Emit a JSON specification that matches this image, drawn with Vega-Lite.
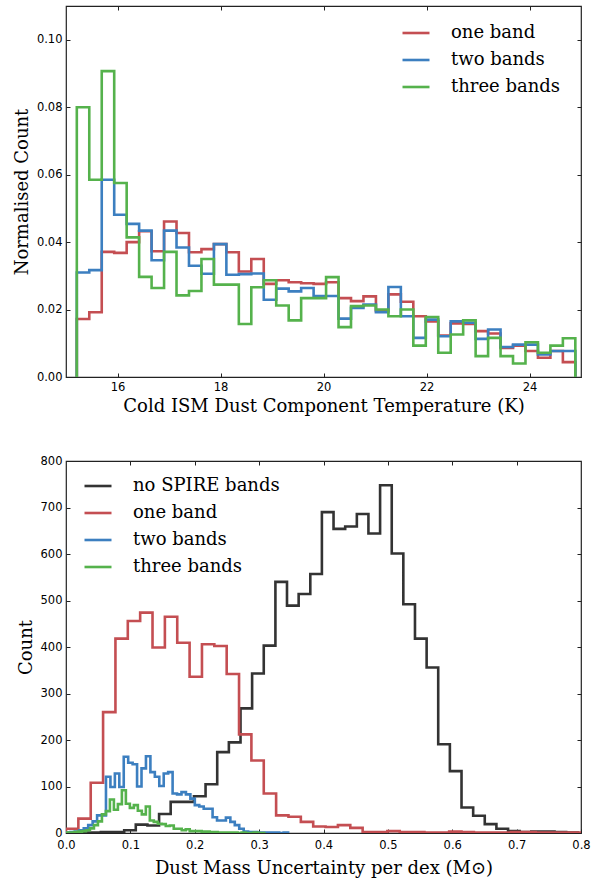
{
  "$schema": "https://vega.github.io/schema/vega-lite/v6.json",
  "background": "white",
  "padding": {"left": 12, "top": 4, "right": 4, "bottom": 0},
  "spacing": 37,
  "config": {
    "view": {"stroke": "#222222", "strokeWidth": 1.2},
    "axis": {
      "grid": false, "domain": false, "labelFlush": false,
      "labelFont": "DejaVu Sans", "labelFontSize": 11.5, "labelColor": "#000000",
      "titleFont": "DejaVu Serif", "titleFontSize": 18, "titleFontWeight": "normal", "titleColor": "#000000",
      "tickColor": "#222222", "tickSize": -4, "labelPadding": 8, "titlePadding": 5
    },
    "legend": {
      "orient": "none", "title": null, "symbolType": "stroke", "symbolSize": 729, "symbolStrokeWidth": 2.6,
      "labelFont": "DejaVu Serif", "labelFontSize": 18, "labelColor": "#000000", "labelOffset": 20,
      "rowPadding": 3, "padding": 0
    }
  },
  "datasets": {
    "top": [
      {"s":"one band","x":15.21,"v":0},
      {"s":"one band","x":15.21,"v":0.0172},
      {"s":"one band","x":15.452,"v":0.0192},
      {"s":"one band","x":15.694,"v":0.0371},
      {"s":"one band","x":15.936,"v":0.0368},
      {"s":"one band","x":16.178,"v":0.0400},
      {"s":"one band","x":16.42,"v":0.0432},
      {"s":"one band","x":16.662,"v":0.0373},
      {"s":"one band","x":16.904,"v":0.0461},
      {"s":"one band","x":17.146,"v":0.0427},
      {"s":"one band","x":17.388,"v":0.0370},
      {"s":"one band","x":17.63,"v":0.0379},
      {"s":"one band","x":17.872,"v":0.0394},
      {"s":"one band","x":18.114,"v":0.0370},
      {"s":"one band","x":18.356,"v":0.0313},
      {"s":"one band","x":18.598,"v":0.0350},
      {"s":"one band","x":18.84,"v":0.0276},
      {"s":"one band","x":19.082,"v":0.0287},
      {"s":"one band","x":19.324,"v":0.0281},
      {"s":"one band","x":19.566,"v":0.0278},
      {"s":"one band","x":19.808,"v":0.0276},
      {"s":"one band","x":20.05,"v":0.0281},
      {"s":"one band","x":20.292,"v":0.0234},
      {"s":"one band","x":20.534,"v":0.0225},
      {"s":"one band","x":20.776,"v":0.0239},
      {"s":"one band","x":21.018,"v":0.0196},
      {"s":"one band","x":21.26,"v":0.0245},
      {"s":"one band","x":21.502,"v":0.0223},
      {"s":"one band","x":21.744,"v":0.0180},
      {"s":"one band","x":21.986,"v":0.0165},
      {"s":"one band","x":22.228,"v":0.0123},
      {"s":"one band","x":22.47,"v":0.0159},
      {"s":"one band","x":22.712,"v":0.0157},
      {"s":"one band","x":22.954,"v":0.0136},
      {"s":"one band","x":23.196,"v":0.0129},
      {"s":"one band","x":23.438,"v":0.0086},
      {"s":"one band","x":23.68,"v":0.0093},
      {"s":"one band","x":23.922,"v":0.0077},
      {"s":"one band","x":24.164,"v":0.0057},
      {"s":"one band","x":24.406,"v":0.0077},
      {"s":"one band","x":24.648,"v":0.0044},
      {"s":"one band","x":24.89,"v":0.0044},
      {"s":"one band","x":24.89,"v":0},
      {"s":"two bands","x":15.21,"v":0},
      {"s":"two bands","x":15.21,"v":0.0310},
      {"s":"two bands","x":15.452,"v":0.0317},
      {"s":"two bands","x":15.694,"v":0.0585},
      {"s":"two bands","x":15.936,"v":0.0481},
      {"s":"two bands","x":16.178,"v":0.0454},
      {"s":"two bands","x":16.42,"v":0.0434},
      {"s":"two bands","x":16.662,"v":0.0346},
      {"s":"two bands","x":16.904,"v":0.0434},
      {"s":"two bands","x":17.146,"v":0.0384},
      {"s":"two bands","x":17.388,"v":0.0330},
      {"s":"two bands","x":17.63,"v":0.0306},
      {"s":"two bands","x":17.872,"v":0.0394},
      {"s":"two bands","x":18.114,"v":0.0303},
      {"s":"two bands","x":18.356,"v":0.0305},
      {"s":"two bands","x":18.598,"v":0.0307},
      {"s":"two bands","x":18.84,"v":0.0229},
      {"s":"two bands","x":19.082,"v":0.0262},
      {"s":"two bands","x":19.324,"v":0.0254},
      {"s":"two bands","x":19.566,"v":0.0264},
      {"s":"two bands","x":19.808,"v":0.0240},
      {"s":"two bands","x":20.05,"v":0.0240},
      {"s":"two bands","x":20.292,"v":0.0173},
      {"s":"two bands","x":20.534,"v":0.0205},
      {"s":"two bands","x":20.776,"v":0.0215},
      {"s":"two bands","x":21.018,"v":0.0192},
      {"s":"two bands","x":21.26,"v":0.0267},
      {"s":"two bands","x":21.502,"v":0.0180},
      {"s":"two bands","x":21.744,"v":0.0116},
      {"s":"two bands","x":21.986,"v":0.0170},
      {"s":"two bands","x":22.228,"v":0.0121},
      {"s":"two bands","x":22.47,"v":0.0165},
      {"s":"two bands","x":22.712,"v":0.0161},
      {"s":"two bands","x":22.954,"v":0.0113},
      {"s":"two bands","x":23.196,"v":0.0141},
      {"s":"two bands","x":23.438,"v":0.0089},
      {"s":"two bands","x":23.68,"v":0.0096},
      {"s":"two bands","x":23.922,"v":0.0096},
      {"s":"two bands","x":24.164,"v":0.0067},
      {"s":"two bands","x":24.406,"v":0.0077},
      {"s":"two bands","x":24.648,"v":0.0077},
      {"s":"two bands","x":24.89,"v":0.0077},
      {"s":"two bands","x":24.89,"v":0},
      {"s":"three bands","x":15.21,"v":0},
      {"s":"three bands","x":15.21,"v":0.0800},
      {"s":"three bands","x":15.452,"v":0.0585},
      {"s":"three bands","x":15.694,"v":0.0907},
      {"s":"three bands","x":15.936,"v":0.0575},
      {"s":"three bands","x":16.178,"v":0.0414},
      {"s":"three bands","x":16.42,"v":0.0297},
      {"s":"three bands","x":16.662,"v":0.0264},
      {"s":"three bands","x":16.904,"v":0.0371},
      {"s":"three bands","x":17.146,"v":0.0242},
      {"s":"three bands","x":17.388,"v":0.0255},
      {"s":"three bands","x":17.63,"v":0.0350},
      {"s":"three bands","x":17.872,"v":0.0274},
      {"s":"three bands","x":18.114,"v":0.0274},
      {"s":"three bands","x":18.356,"v":0.0157},
      {"s":"three bands","x":18.598,"v":0.0266},
      {"s":"three bands","x":18.84,"v":0.0287},
      {"s":"three bands","x":19.082,"v":0.0212},
      {"s":"three bands","x":19.324,"v":0.0168},
      {"s":"three bands","x":19.566,"v":0.0234},
      {"s":"three bands","x":19.808,"v":0.0234},
      {"s":"three bands","x":20.05,"v":0.0296},
      {"s":"three bands","x":20.292,"v":0.0148},
      {"s":"three bands","x":20.534,"v":0.0210},
      {"s":"three bands","x":20.776,"v":0.0212},
      {"s":"three bands","x":21.018,"v":0.0200},
      {"s":"three bands","x":21.26,"v":0.0180},
      {"s":"three bands","x":21.502,"v":0.0200},
      {"s":"three bands","x":21.744,"v":0.0093},
      {"s":"three bands","x":21.986,"v":0.0178},
      {"s":"three bands","x":22.228,"v":0.0072},
      {"s":"three bands","x":22.47,"v":0.0126},
      {"s":"three bands","x":22.712,"v":0.0168},
      {"s":"three bands","x":22.954,"v":0.0062},
      {"s":"three bands","x":23.196,"v":0.0116},
      {"s":"three bands","x":23.438,"v":0.0062},
      {"s":"three bands","x":23.68,"v":0.0040},
      {"s":"three bands","x":23.922,"v":0.0103},
      {"s":"three bands","x":24.164,"v":0.0072},
      {"s":"three bands","x":24.406,"v":0.0093},
      {"s":"three bands","x":24.648,"v":0.0115},
      {"s":"three bands","x":24.89,"v":0.0115},
      {"s":"three bands","x":24.89,"v":0}
    ],
    "bottom": [
      {"s":"no SPIRE bands","x":0,"v":0},
      {"s":"no SPIRE bands","x":0,"v":0},
      {"s":"no SPIRE bands","x":0.0181,"v":1},
      {"s":"no SPIRE bands","x":0.0361,"v":1},
      {"s":"no SPIRE bands","x":0.0542,"v":2},
      {"s":"no SPIRE bands","x":0.0723,"v":2},
      {"s":"no SPIRE bands","x":0.0904,"v":6},
      {"s":"no SPIRE bands","x":0.1084,"v":18},
      {"s":"no SPIRE bands","x":0.1265,"v":16},
      {"s":"no SPIRE bands","x":0.1446,"v":41},
      {"s":"no SPIRE bands","x":0.1626,"v":67},
      {"s":"no SPIRE bands","x":0.1807,"v":67},
      {"s":"no SPIRE bands","x":0.1988,"v":79},
      {"s":"no SPIRE bands","x":0.2168,"v":105},
      {"s":"no SPIRE bands","x":0.2349,"v":174},
      {"s":"no SPIRE bands","x":0.2530,"v":195},
      {"s":"no SPIRE bands","x":0.2711,"v":268},
      {"s":"no SPIRE bands","x":0.2891,"v":343},
      {"s":"no SPIRE bands","x":0.3072,"v":403},
      {"s":"no SPIRE bands","x":0.3253,"v":540},
      {"s":"no SPIRE bands","x":0.3433,"v":489},
      {"s":"no SPIRE bands","x":0.3614,"v":514},
      {"s":"no SPIRE bands","x":0.3795,"v":557},
      {"s":"no SPIRE bands","x":0.3975,"v":690},
      {"s":"no SPIRE bands","x":0.4156,"v":654},
      {"s":"no SPIRE bands","x":0.4337,"v":659},
      {"s":"no SPIRE bands","x":0.4518,"v":686},
      {"s":"no SPIRE bands","x":0.4698,"v":644},
      {"s":"no SPIRE bands","x":0.4879,"v":748},
      {"s":"no SPIRE bands","x":0.5060,"v":601},
      {"s":"no SPIRE bands","x":0.5240,"v":492},
      {"s":"no SPIRE bands","x":0.5421,"v":418},
      {"s":"no SPIRE bands","x":0.5602,"v":356},
      {"s":"no SPIRE bands","x":0.5782,"v":191},
      {"s":"no SPIRE bands","x":0.5963,"v":133},
      {"s":"no SPIRE bands","x":0.6144,"v":55},
      {"s":"no SPIRE bands","x":0.6325,"v":37},
      {"s":"no SPIRE bands","x":0.6505,"v":19},
      {"s":"no SPIRE bands","x":0.6686,"v":9},
      {"s":"no SPIRE bands","x":0.6867,"v":4},
      {"s":"no SPIRE bands","x":0.7047,"v":2},
      {"s":"no SPIRE bands","x":0.7228,"v":3},
      {"s":"no SPIRE bands","x":0.7409,"v":3},
      {"s":"no SPIRE bands","x":0.7589,"v":2},
      {"s":"no SPIRE bands","x":0.7770,"v":1},
      {"s":"no SPIRE bands","x":0.7951,"v":1},
      {"s":"no SPIRE bands","x":0.7951,"v":0},
      {"s":"one band","x":0,"v":0},
      {"s":"one band","x":0,"v":9},
      {"s":"one band","x":0.0192,"v":31},
      {"s":"one band","x":0.0384,"v":108},
      {"s":"one band","x":0.0576,"v":260},
      {"s":"one band","x":0.0768,"v":418},
      {"s":"one band","x":0.096,"v":456},
      {"s":"one band","x":0.1152,"v":474},
      {"s":"one band","x":0.1344,"v":399},
      {"s":"one band","x":0.1536,"v":465},
      {"s":"one band","x":0.1728,"v":409},
      {"s":"one band","x":0.192,"v":336},
      {"s":"one band","x":0.2112,"v":406},
      {"s":"one band","x":0.2304,"v":402},
      {"s":"one band","x":0.2496,"v":342},
      {"s":"one band","x":0.2688,"v":212},
      {"s":"one band","x":0.288,"v":156},
      {"s":"one band","x":0.3072,"v":85},
      {"s":"one band","x":0.3264,"v":38},
      {"s":"one band","x":0.3456,"v":35},
      {"s":"one band","x":0.3648,"v":24},
      {"s":"one band","x":0.384,"v":14},
      {"s":"one band","x":0.4032,"v":13},
      {"s":"one band","x":0.4224,"v":17},
      {"s":"one band","x":0.4416,"v":11},
      {"s":"one band","x":0.4608,"v":2},
      {"s":"one band","x":0.48,"v":2},
      {"s":"one band","x":0.4992,"v":4},
      {"s":"one band","x":0.5184,"v":2},
      {"s":"one band","x":0.5376,"v":2},
      {"s":"one band","x":0.5568,"v":1},
      {"s":"one band","x":0.576,"v":1},
      {"s":"one band","x":0.5952,"v":3},
      {"s":"one band","x":0.6144,"v":2},
      {"s":"one band","x":0.6336,"v":1},
      {"s":"one band","x":0.6528,"v":1},
      {"s":"one band","x":0.672,"v":1},
      {"s":"one band","x":0.6912,"v":2},
      {"s":"one band","x":0.7104,"v":2},
      {"s":"one band","x":0.7296,"v":1},
      {"s":"one band","x":0.7488,"v":1},
      {"s":"one band","x":0.768,"v":1},
      {"s":"one band","x":0.7872,"v":1},
      {"s":"one band","x":0.8064,"v":1},
      {"s":"one band","x":0.8064,"v":0},
      {"s":"two bands","x":0,"v":0},
      {"s":"two bands","x":0,"v":1},
      {"s":"two bands","x":0.0069,"v":2},
      {"s":"two bands","x":0.0138,"v":3},
      {"s":"two bands","x":0.0207,"v":6},
      {"s":"two bands","x":0.0276,"v":10},
      {"s":"two bands","x":0.0345,"v":17},
      {"s":"two bands","x":0.0414,"v":25},
      {"s":"two bands","x":0.0483,"v":38},
      {"s":"two bands","x":0.0552,"v":38},
      {"s":"two bands","x":0.0621,"v":121},
      {"s":"two bands","x":0.069,"v":99},
      {"s":"two bands","x":0.0759,"v":128},
      {"s":"two bands","x":0.0828,"v":99},
      {"s":"two bands","x":0.0897,"v":164},
      {"s":"two bands","x":0.0966,"v":151},
      {"s":"two bands","x":0.1035,"v":148},
      {"s":"two bands","x":0.1104,"v":100},
      {"s":"two bands","x":0.1173,"v":139},
      {"s":"two bands","x":0.1242,"v":165},
      {"s":"two bands","x":0.1311,"v":131},
      {"s":"two bands","x":0.138,"v":121},
      {"s":"two bands","x":0.1449,"v":101},
      {"s":"two bands","x":0.1518,"v":128},
      {"s":"two bands","x":0.1587,"v":131},
      {"s":"two bands","x":0.1656,"v":85},
      {"s":"two bands","x":0.1725,"v":83},
      {"s":"two bands","x":0.1794,"v":88},
      {"s":"two bands","x":0.1863,"v":83},
      {"s":"two bands","x":0.1932,"v":74},
      {"s":"two bands","x":0.2001,"v":60},
      {"s":"two bands","x":0.207,"v":57},
      {"s":"two bands","x":0.2139,"v":52},
      {"s":"two bands","x":0.2208,"v":52},
      {"s":"two bands","x":0.2277,"v":34},
      {"s":"two bands","x":0.2346,"v":27},
      {"s":"two bands","x":0.2415,"v":27},
      {"s":"two bands","x":0.2484,"v":33},
      {"s":"two bands","x":0.2553,"v":24},
      {"s":"two bands","x":0.2622,"v":17},
      {"s":"two bands","x":0.2691,"v":9},
      {"s":"two bands","x":0.276,"v":3},
      {"s":"two bands","x":0.2829,"v":2},
      {"s":"two bands","x":0.2898,"v":2},
      {"s":"two bands","x":0.2967,"v":1},
      {"s":"two bands","x":0.3036,"v":1},
      {"s":"two bands","x":0.3105,"v":1},
      {"s":"two bands","x":0.3174,"v":1},
      {"s":"two bands","x":0.3243,"v":1},
      {"s":"two bands","x":0.3312,"v":0},
      {"s":"two bands","x":0.3381,"v":1},
      {"s":"two bands","x":0.345,"v":1},
      {"s":"two bands","x":0.345,"v":0},
      {"s":"three bands","x":0,"v":0},
      {"s":"three bands","x":0,"v":1},
      {"s":"three bands","x":0.0062,"v":1},
      {"s":"three bands","x":0.0124,"v":2},
      {"s":"three bands","x":0.0186,"v":3},
      {"s":"three bands","x":0.0248,"v":4},
      {"s":"three bands","x":0.031,"v":6},
      {"s":"three bands","x":0.0372,"v":10},
      {"s":"three bands","x":0.0434,"v":17},
      {"s":"three bands","x":0.0496,"v":25},
      {"s":"three bands","x":0.0558,"v":40},
      {"s":"three bands","x":0.062,"v":47},
      {"s":"three bands","x":0.0682,"v":72},
      {"s":"three bands","x":0.0744,"v":50},
      {"s":"three bands","x":0.0806,"v":62},
      {"s":"three bands","x":0.0868,"v":92},
      {"s":"three bands","x":0.093,"v":63},
      {"s":"three bands","x":0.0992,"v":54},
      {"s":"three bands","x":0.1054,"v":60},
      {"s":"three bands","x":0.1116,"v":48},
      {"s":"three bands","x":0.1178,"v":40},
      {"s":"three bands","x":0.124,"v":57},
      {"s":"three bands","x":0.1302,"v":27},
      {"s":"three bands","x":0.1364,"v":24},
      {"s":"three bands","x":0.1426,"v":20},
      {"s":"three bands","x":0.1488,"v":19},
      {"s":"three bands","x":0.155,"v":15},
      {"s":"three bands","x":0.1612,"v":16},
      {"s":"three bands","x":0.1674,"v":9},
      {"s":"three bands","x":0.1736,"v":9},
      {"s":"three bands","x":0.1798,"v":6},
      {"s":"three bands","x":0.186,"v":8},
      {"s":"three bands","x":0.1922,"v":4},
      {"s":"three bands","x":0.1984,"v":4},
      {"s":"three bands","x":0.2046,"v":4},
      {"s":"three bands","x":0.2108,"v":3},
      {"s":"three bands","x":0.217,"v":3},
      {"s":"three bands","x":0.2232,"v":2},
      {"s":"three bands","x":0.2294,"v":2},
      {"s":"three bands","x":0.2356,"v":1},
      {"s":"three bands","x":0.2418,"v":1},
      {"s":"three bands","x":0.248,"v":1},
      {"s":"three bands","x":0.2542,"v":1},
      {"s":"three bands","x":0.2604,"v":1},
      {"s":"three bands","x":0.2666,"v":0},
      {"s":"three bands","x":0.2728,"v":1},
      {"s":"three bands","x":0.279,"v":0},
      {"s":"three bands","x":0.2852,"v":0},
      {"s":"three bands","x":0.2914,"v":1},
      {"s":"three bands","x":0.2976,"v":0},
      {"s":"three bands","x":0.3038,"v":0},
      {"s":"three bands","x":0.31,"v":0}
    ]
  },
  "vconcat": [
    {
      "width": 515,
      "height": 371,
      "data": {"name": "top"},
      "layer": [
        {
          "mark": {"type": "line", "interpolate": "step-after", "strokeWidth": 2.6, "clip": true},
          "encoding": {
            "x": {"field": "x", "type": "quantitative", "scale": {"domain": [15, 25], "nice": false, "zero": false},
                  "axis": {"values": [16, 18, 20, 22, 24], "format": "d", "title": "Cold ISM Dust Component Temperature (K)"}},
            "y": {"field": "v", "type": "quantitative", "scale": {"domain": [0, 0.11], "nice": false},
                  "axis": {"values": [0, 0.02, 0.04, 0.06, 0.08, 0.1], "format": ".2f", "title": "Normalised Count"}},
            "color": {"field": "s", "type": "nominal",
                      "scale": {"domain": ["one band", "two bands", "three bands"], "range": ["#c44e52", "#3c7fc0", "#55b24c"]},
                      "legend": {"legendX": 335, "legendY": 12}},
            "order": {"value": null}
          }
        },
        {
          "mark": {"type": "point", "opacity": 0},
          "encoding": {
            "x": {"field": "x", "type": "quantitative", "axis": {"orient": "top", "values": [16, 18, 20, 22, 24], "labels": false, "title": null}},
            "y": {"field": "v", "type": "quantitative", "axis": {"orient": "right", "values": [0, 0.02, 0.04, 0.06, 0.08, 0.1], "labels": false, "title": null}}
          }
        }
      ],
      "resolve": {"axis": {"x": "independent", "y": "independent"}}
    },
    {
      "width": 515,
      "height": 372,
      "data": {"name": "bottom"},
      "layer": [
        {
          "mark": {"type": "line", "interpolate": "step-after", "strokeWidth": 2.6, "clip": true},
          "encoding": {
            "x": {"field": "x", "type": "quantitative", "scale": {"domain": [0, 0.8], "nice": false, "zero": false},
                  "axis": {"values": [0, 0.1, 0.2, 0.3, 0.4, 0.5, 0.6, 0.7, 0.8], "format": ".1f", "title": "Dust Mass Uncertainty per dex (M⊙)", "labelPadding": 10, "titlePadding": 9}},
            "y": {"field": "v", "type": "quantitative", "scale": {"domain": [0, 800], "nice": false},
                  "axis": {"values": [0, 100, 200, 300, 400, 500, 600, 700, 800], "format": "d", "title": "Count"}},
            "color": {"field": "s", "type": "nominal",
                      "scale": {"domain": ["no SPIRE bands", "one band", "two bands", "three bands"], "range": ["#333333", "#c44e52", "#3c7fc0", "#55b24c"]},
                      "legend": {"legendX": 17, "legendY": 10}},
            "order": {"value": null}
          }
        },
        {
          "mark": {"type": "point", "opacity": 0},
          "encoding": {
            "x": {"field": "x", "type": "quantitative", "axis": {"orient": "top", "values": [0.1, 0.2, 0.3, 0.4, 0.5, 0.6, 0.7], "labels": false, "title": null}},
            "y": {"field": "v", "type": "quantitative", "axis": {"orient": "right", "values": [100, 200, 300, 400, 500, 600, 700], "labels": false, "title": null}}
          }
        }
      ],
      "resolve": {"axis": {"x": "independent", "y": "independent"}, "legend": {"color": "independent"}}
    }
  ],
  "resolve": {"scale": {"color": "independent"}, "legend": {"color": "independent"}}
}
